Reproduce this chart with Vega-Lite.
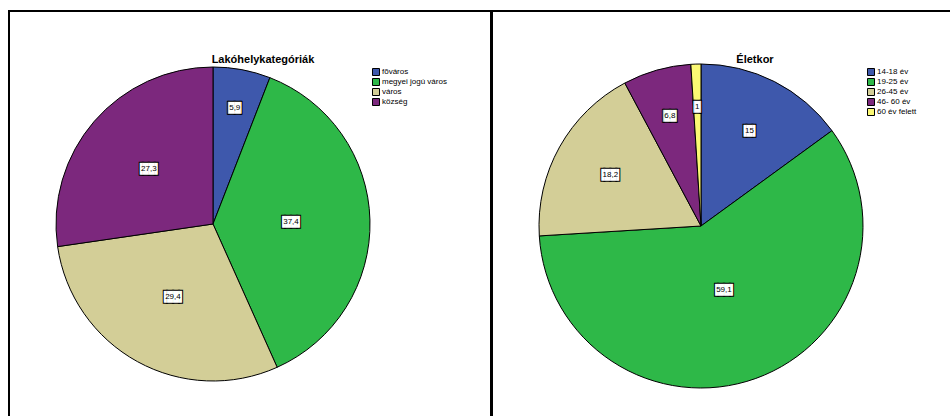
{
  "$schema": "https://vega.github.io/schema/vega-lite/v6.json",
  "padding": {"left": 8, "top": 10, "right": 0, "bottom": 0},
  "spacing": -2,
  "background": "white",
  "resolve": {
    "scale": {"color": "independent", "theta": "independent", "radius": "independent"},
    "legend": {"color": "independent"}
  },
  "config": {
    "font": "Liberation Sans",
    "view": {"stroke": "black", "strokeWidth": 2},
    "legend": {
      "orient": "none",
      "title": null,
      "symbolType": "square",
      "symbolSize": 49,
      "symbolStrokeColor": "black",
      "symbolStrokeWidth": 1,
      "symbolOpacity": 1,
      "labelFont": "Liberation Sans",
      "labelFontSize": 8,
      "labelColor": "black",
      "rowPadding": -4.5,
      "labelOffset": 2,
      "padding": 0
    },
    "title": {"font": "Liberation Sans", "fontSize": 11, "fontWeight": "bold", "color": "black", "anchor": "middle", "baseline": "alphabetic"}
  },
  "hconcat": [
    {
      "width": 482,
      "height": 410,
      "view": {"stroke": "black", "strokeWidth": 2},
      "title": {"text": "Lakóhelykategóriák", "dx": 13, "offset": -54},
      "data": {"values": [
        {"i": 1, "cat": "fõváros", "value": 5.9, "label": "5,9"},
        {"i": 2, "cat": "megyei jogú város", "value": 37.4, "label": "37,4"},
        {"i": 3, "cat": "város", "value": 29.4, "label": "29,4"},
        {"i": 4, "cat": "község", "value": 27.3, "label": "27,3"}
      ]},
      "transform": [
        {"calculate": "length(datum.label)==1 ? '▕█▏' : length(datum.label)==2 ? '▐█▌' : length(datum.label)==3 ? '▕██▏' : '▐██▌'", "as": "box"}
      ],
      "encoding": {
        "theta": {"field": "value", "type": "quantitative", "stack": true},
        "order": {"field": "i", "type": "quantitative", "sort": "ascending"}
      },
      "layer": [
        {
          "mark": {"type": "arc", "outerRadius": 157, "stroke": "black", "strokeWidth": 1, "xOffset": -37, "yOffset": 8},
          "encoding": {
            "color": {
              "field": "cat", "type": "nominal",
              "scale": {"domain": ["fõváros", "megyei jogú város", "város", "község"], "range": ["#3E58AC", "#2EB848", "#D3CE97", "#7C287D"]},
              "legend": {"legendX": 363, "legendY": 57}
            }
          }
        },
        {
          "mark": {"type": "text", "font": "DejaVu Sans Mono", "fontSize": 10, "baseline": "middle", "align": "center", "fill": "black", "stroke": "black", "strokeWidth": 2, "xOffset": -37, "yOffset": 8},
          "encoding": {
            "radius": {"field": "value", "type": "quantitative", "scale": {"type": "log", "zero": false, "domain": [5.9, 37.4], "range": [118, 78]}},
            "text": {"field": "box"}
          }
        },
        {
          "mark": {"type": "text", "font": "DejaVu Sans Mono", "fontSize": 10, "baseline": "middle", "align": "center", "fill": "white", "xOffset": -37, "yOffset": 8},
          "encoding": {
            "radius": {"field": "value", "type": "quantitative"},
            "text": {"field": "box"}
          }
        },
        {
          "mark": {"type": "text", "font": "Liberation Sans", "fontSize": 8, "baseline": "middle", "align": "center", "fill": "black", "xOffset": -37, "yOffset": 8},
          "encoding": {
            "radius": {"field": "value", "type": "quantitative"},
            "text": {"field": "label"}
          }
        }
      ]
    },
    {
      "width": 470,
      "height": 410,
      "view": {"stroke": "black", "strokeWidth": 2},
      "title": {"text": "Életkor", "dx": 28, "offset": -54},
      "data": {"values": [
        {"i": 1, "cat": "14-18 év", "value": 15, "label": "15"},
        {"i": 2, "cat": "19-25 év", "value": 59.1, "label": "59,1"},
        {"i": 3, "cat": "26-45 év", "value": 18.2, "label": "18,2"},
        {"i": 4, "cat": "46- 60 év", "value": 6.8, "label": "6,8"},
        {"i": 5, "cat": "60 év felett", "value": 1, "label": "1"}
      ]},
      "transform": [
        {"calculate": "length(datum.label)==1 ? '▕█▏' : length(datum.label)==2 ? '▐█▌' : length(datum.label)==3 ? '▕██▏' : '▐██▌'", "as": "box"}
      ],
      "encoding": {
        "theta": {"field": "value", "type": "quantitative", "stack": true},
        "order": {"field": "i", "type": "quantitative", "sort": "ascending"}
      },
      "layer": [
        {
          "mark": {"type": "arc", "outerRadius": 162, "stroke": "black", "strokeWidth": 1, "xOffset": -26, "yOffset": 10},
          "encoding": {
            "color": {
              "field": "cat", "type": "nominal",
              "scale": {"domain": ["14-18 év", "19-25 év", "26-45 év", "46- 60 év", "60 év felett"], "range": ["#3E58AC", "#2EB848", "#D3CE97", "#7C287D", "#FBF873"]},
              "legend": {"legendX": 375, "legendY": 57}
            }
          }
        },
        {
          "mark": {"type": "text", "font": "DejaVu Sans Mono", "fontSize": 10, "baseline": "middle", "align": "center", "fill": "black", "stroke": "black", "strokeWidth": 2, "xOffset": -26, "yOffset": 10},
          "encoding": {
            "radius": {"field": "value", "type": "quantitative", "scale": {"type": "linear", "zero": false, "domain": [0, 60], "range": [120, 67]}},
            "text": {"field": "box"}
          }
        },
        {
          "mark": {"type": "text", "font": "DejaVu Sans Mono", "fontSize": 10, "baseline": "middle", "align": "center", "fill": "white", "xOffset": -26, "yOffset": 10},
          "encoding": {
            "radius": {"field": "value", "type": "quantitative"},
            "text": {"field": "box"}
          }
        },
        {
          "mark": {"type": "text", "font": "Liberation Sans", "fontSize": 8, "baseline": "middle", "align": "center", "fill": "black", "xOffset": -26, "yOffset": 10},
          "encoding": {
            "radius": {"field": "value", "type": "quantitative"},
            "text": {"field": "label"}
          }
        }
      ]
    }
  ]
}
